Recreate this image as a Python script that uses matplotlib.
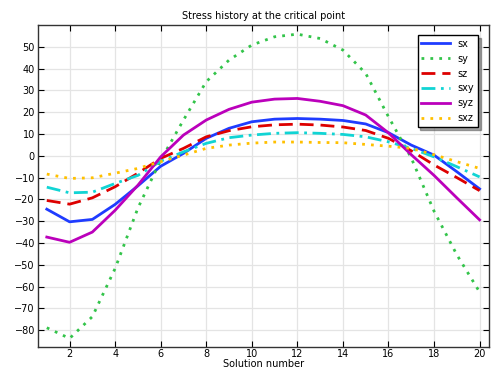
import numpy as np
import matplotlib
matplotlib.use("Agg")
import matplotlib.pyplot as plt

# solution numbers and stress components
solution = np.arange(1, 21)
sx = [-24.5, -30.3, -29.2, -22.3, -13.8, -4.8, 1.1, 8.0, 12.6, 15.6,
      16.8, 17.1, 16.8, 16.2, 14.6, 10.6, 4.9, 0.3, -7.3, -15.2]
sy = [-78.9, -83.8, -73.8, -51.7, -24.0, -2.0, 16.4, 34.0, 43.9, 50.8,
      54.6, 55.8, 53.8, 48.5, 37.8, 17.9, -1.0, -25.4, -45.4, -62.5]
sz = [-20.5, -22.2, -19.3, -14.2, -8.0, -1.2, 3.4, 8.7, 11.5, 13.3,
      14.2, 14.5, 14.1, 13.2, 11.6, 8.0, 2.3, -4.2, -10.0, -16.0]
sxy = [-14.4, -17.0, -16.7, -12.7, -9.0, -2.5, 1.8, 5.7, 8.3, 9.5,
       10.3, 10.6, 10.3, 9.8, 8.7, 6.4, 3.4, -0.5, -5.0, -9.7]
syz = [-37.3, -39.7, -35.0, -25.0, -13.5, -0.5, 9.5, 16.4, 21.3, 24.6,
       26.0, 26.3, 25.0, 23.0, 18.7, 10.5, 0.5, -9.0, -19.3, -29.4]
sxz = [-8.4, -10.4, -10.1, -8.0, -5.8, -2.7, 0.3, 3.4, 4.9, 5.8,
       6.3, 6.3, 6.1, 6.0, 5.2, 4.4, 3.4, 0.5, -2.7, -5.8]

fig = plt.figure(figsize=(4.92, 3.71), dpi=100)
ax = fig.add_axes([0.0766, 0.0655, 0.9167, 0.8671])

ax.plot(solution, sx, color="#1f3cff", lw=2, ls="-", label="sx")
ax.plot(solution, sy, color="#33c44a", lw=2, ls=(0, (1, 2.2)), label="sy")
ax.plot(solution, sz, color="#dd0000", lw=2, ls=(0, (5, 2.5)), label="sz")
ax.plot(solution, sxy, color="#11d4d4", lw=2, ls=(0, (5, 2, 1, 2)), label="sxy")
ax.plot(solution, syz, color="#bb00bb", lw=2, ls="-", label="syz")
ax.plot(solution, sxz, color="#ffc000", lw=2, ls=(0, (1, 2.2)), label="sxz")

ax.set_xlim(0.6, 20.4)
ax.set_ylim(-87.6, 60)
ax.set_xticks(range(2, 21, 2))
ax.set_yticks(range(-80, 51, 10))
ax.grid(True, color="#e4e4e4", lw=0.9)
ax.set_axisbelow(True)
ax.tick_params(direction="in", top=True, right=True, labelsize=7, length=4, pad=2)
for sp in ax.spines.values():
    sp.set_color("#333333")
    sp.set_linewidth(1)

ax.set_title("Stress history at the critical point", fontsize=7, pad=4)
ax.set_xlabel("Solution number", fontsize=7, labelpad=0)

leg = ax.legend(loc="upper right", fontsize=7, frameon=True, fancybox=False,
                shadow=True, handlelength=2.9, labelspacing=0.5,
                borderaxespad=0, bbox_to_anchor=(0.976, 0.969))
leg.get_frame().set_edgecolor("black")
leg.get_frame().set_linewidth(1)

fig.savefig("out.png", dpi=100)
